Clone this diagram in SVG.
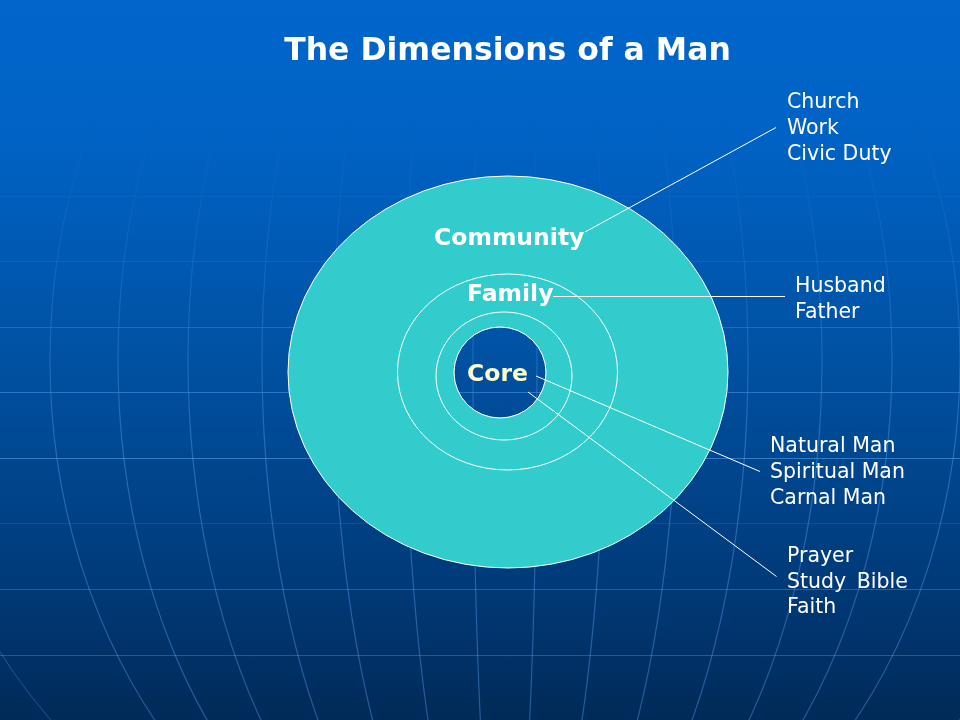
<svg xmlns="http://www.w3.org/2000/svg" width="960" height="720" viewBox="0 0 960 720">
  <defs>
    <linearGradient id="bg" x1="0" y1="0" x2="0" y2="1">
      <stop offset="0" stop-color="#0066cc"/>
      <stop offset="0.2" stop-color="#0062c4"/>
      <stop offset="0.5" stop-color="#0051a2"/>
      <stop offset="0.8" stop-color="#003b7a"/>
      <stop offset="1" stop-color="#002a58"/>
    </linearGradient>
    <linearGradient id="fade" gradientUnits="userSpaceOnUse" x1="0" y1="120" x2="0" y2="440">
      <stop offset="0" stop-color="#fff" stop-opacity="0"/>
      <stop offset="1" stop-color="#fff" stop-opacity="1"/>
    </linearGradient>
    <mask id="gridMask" maskUnits="userSpaceOnUse" x="0" y="0" width="960" height="720">
      <rect width="960" height="720" fill="url(#fade)"/>
    </mask>
    <style>
      .grid { fill: none; stroke: #5aa6f5; stroke-width: 1.2; }
      .ring { fill: none; stroke: #ffffff; stroke-width: 1; }
      .conn { stroke: #ffffff; stroke-width: 1; fill: none; }
      .title { font-family: "DejaVu Sans", Verdana, sans-serif; font-weight: bold; font-size: 31.5px; fill: #ffffff; }
      .zone { font-family: "DejaVu Sans", Verdana, sans-serif; font-weight: bold; font-size: 23.5px; fill: #ffffff; }
      .label { font-family: "DejaVu Sans", Verdana, sans-serif; font-size: 20.5px; fill: #ffffff; }
    </style>
  </defs>

  <!-- background with faint globe grid -->
  <rect width="960" height="720" fill="url(#bg)"/>
  <g id="globe-grid" class="grid" mask="url(#gridMask)">
    <line x1="0" y1="130.5" x2="960" y2="130.5" opacity="0.25"/>
    <line x1="0" y1="196.5" x2="960" y2="196.5" opacity="0.3"/>
    <line x1="0" y1="261.5" x2="960" y2="261.5" opacity="0.35"/>
    <line x1="0" y1="327.5" x2="960" y2="327.5" opacity="0.45"/>
    <line x1="0" y1="392.5" x2="960" y2="392.5" opacity="0.55"/>
    <line x1="0" y1="458.5" x2="960" y2="458.5" opacity="0.55"/>
    <line x1="0" y1="523.5" x2="960" y2="523.5" opacity="0.15"/>
    <line x1="0" y1="589.5" x2="960" y2="589.5" opacity="0.35"/>
    <line x1="0" y1="655.5" x2="960" y2="655.5" opacity="0.35"/>
    <g opacity="0.4">
      <ellipse cx="505" cy="360" rx="32" ry="564"/>
      <ellipse cx="505" cy="360" rx="100" ry="564"/>
      <ellipse cx="505" cy="360" rx="172" ry="564"/>
      <ellipse cx="505" cy="360" rx="243" ry="564"/>
      <ellipse cx="505" cy="360" rx="317" ry="564"/>
      <ellipse cx="505" cy="360" rx="387" ry="564"/>
      <ellipse cx="505" cy="360" rx="455" ry="564"/>
      <ellipse cx="505" cy="360" rx="590" ry="564" opacity="0.7"/>
    </g>
  </g>

  <g id="title">
    <text class="title" x="507.5" y="59.5" text-anchor="middle">The Dimensions of a Man</text>
  </g>

  <!-- outer disc, open at the core -->
  <g id="community">
    <path d="M288 372 a220 196 0 1 0 440 0 a220 196 0 1 0 -440 0 Z M454 372.5 a46 45.5 0 1 0 92 0 a46 45.5 0 1 0 -92 0 Z"
          fill="#33cccc" fill-rule="evenodd" stroke="#ffffff" stroke-width="1"/>
    <text class="zone" x="434" y="245">Community</text>
  </g>

  <g id="family">
    <ellipse class="ring" cx="507.5" cy="372" rx="110" ry="98"/>
    <ellipse class="ring" cx="504" cy="376" rx="68" ry="64"/>
    <text class="zone" x="467" y="300.5">Family</text>
  </g>

  <g id="core">
    <ellipse cx="500" cy="372.5" rx="46" ry="45.5" fill="none" stroke="#ffffff" stroke-opacity="0.35" stroke-width="1"/>
    <text class="zone" x="467" y="380.5" style="fill:#ffffcc">Core</text>
  </g>

  <g id="connectors">
    <line class="conn" x1="585" y1="232" x2="776" y2="127.5"/>
    <line class="conn" x1="553" y1="296.5" x2="785" y2="296.5"/>
    <line class="conn" x1="536" y1="376" x2="760" y2="471.5"/>
    <line class="conn" x1="528" y1="392" x2="776.5" y2="576.5"/>
  </g>

  <g id="community-roles">
    <text class="label" x="787" y="107.5">Church</text>
    <text class="label" x="787" y="133.5">Work</text>
    <text class="label" x="787" y="159.5">Civic Duty</text>
  </g>

  <g id="family-roles">
    <text class="label" x="795" y="291.5">Husband</text>
    <text class="label" x="795" y="317.5">Father</text>
  </g>

  <g id="core-natures">
    <text class="label" x="770" y="451.5">Natural Man</text>
    <text class="label" x="770" y="477.5">Spiritual Man</text>
    <text class="label" x="770" y="503.5">Carnal Man</text>
  </g>

  <g id="core-disciplines">
    <text class="label" x="787" y="561.5">Prayer</text>
    <text class="label" x="787" y="587.5" word-spacing="4">Study Bible</text>
    <text class="label" x="787" y="613">Faith</text>
  </g>
</svg>
